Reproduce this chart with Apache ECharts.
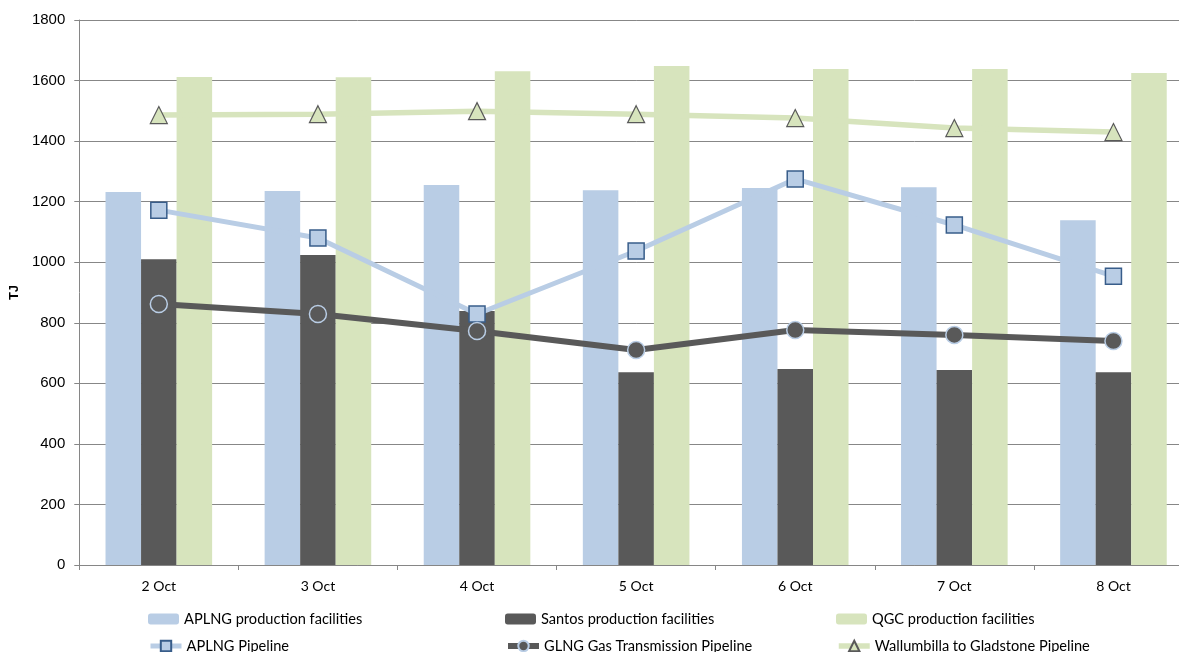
<!DOCTYPE html>
<html>
<head>
<meta charset="utf-8">
<script src="https://cdn.jsdelivr.net/npm/echarts@6/dist/echarts.min.js"></script>
<style>
html,body{margin:0;padding:0;background:#fff;overflow:hidden;}
#c{width:1193px;height:652px;}
</style>
</head>
<body>
<div id="c"></div>
<script>
var categories = ['2 Oct','3 Oct','4 Oct','5 Oct','6 Oct','7 Oct','8 Oct'];
var yTicks = [0,200,400,600,800,1000,1200,1400,1600,1800];
var aplngProd = [1232,1235,1255,1238,1245,1248,1139];
var santosProd = [1010,1024,839,637,647,644,637];
var qgcProd = [1612,1611,1631,1648,1638,1638,1625];
var aplngPipe = [1172,1080,829,1037,1275,1123,954];
var glngPipe = [862,829,773,710,776,760,740];
var wallPipe = [1486,1489,1499,1489,1476,1443,1430];

var C_BLUE = '#b9cde5', C_DARK = '#595959', C_GREEN = '#d7e4bd';
var chart = echarts.init(document.getElementById('c'));
var legendText = {fontFamily:'Lato', fontSize:14.6, color:'#000', lineHeight:16};
function lg(name, left, top, isLine, lw){
  var o = {show:true, data:[name], left:left, top:top, orient:'horizontal',
    itemWidth:31, itemHeight:isLine?13:11, itemGap:0, textStyle:legendText, selectedMode:false, padding:0};
  if (isLine) o.lineStyle = {width:lw};
  return o;
}
chart.setOption({
  animation:false,
  backgroundColor:'#fff',
  grid:{left:79, top:20, right:0, bottom:87, containLabel:false},
  legend:[
    lg('APLNG production facilities',148,611),
    lg('Santos production facilities',505,611),
    lg('QGC production facilities',836,611),
    lg('APLNG Pipeline',148,638,true,5),
    lg('GLNG Gas Transmission Pipeline',505,638,true,6),
    lg('Wallumbilla to Gladstone Pipeline',836,638,true,5.5)
  ],
  xAxis:{
    type:'category', data:categories,
    axisLine:{lineStyle:{color:'#868686', width:1}},
    axisTick:{show:true, length:5, lineStyle:{color:'#868686'}},
    axisLabel:{fontFamily:'Lato', fontSize:14, color:'#000', margin:14},
    splitLine:{show:false}
  },
  yAxis:{
    type:'value', min:yTicks[0], max:yTicks[yTicks.length-1], interval:200,
    name:'TJ', nameLocation:'middle', nameRotate:90, nameGap:50,
    nameTextStyle:{fontFamily:'Liberation Sans', fontWeight:'bold', fontSize:13, color:'#000'},
    axisLine:{show:true, lineStyle:{color:'#868686', width:1}},
    axisTick:{show:true, length:5, lineStyle:{color:'#868686'}},
    axisLabel:{fontFamily:'Liberation Sans', fontSize:15, color:'#000', margin:14,
      formatter:function(v){return String(v);}},
    splitLine:{show:true, lineStyle:{color:'#878787', width:1}}
  },
  series:[
    {name:'APLNG production facilities', type:'bar', data:aplngProd, barGap:'0%', barCategoryGap:'33%',
      itemStyle:{color:C_BLUE}},
    {name:'Santos production facilities', type:'bar', data:santosProd, barGap:'0%', barCategoryGap:'33%',
      itemStyle:{color:C_DARK}},
    {name:'QGC production facilities', type:'bar', data:qgcProd, barGap:'0%', barCategoryGap:'33%',
      itemStyle:{color:C_GREEN}},
    {name:'APLNG Pipeline', type:'line', data:aplngPipe, symbol:'rect', symbolSize:16,
      lineStyle:{color:C_BLUE, width:5}, itemStyle:{color:C_BLUE, borderColor:'#385d8a', borderWidth:1.5}},
    {name:'GLNG Gas Transmission Pipeline', type:'line', data:glngPipe, symbol:'circle', symbolSize:17,
      lineStyle:{color:C_DARK, width:6}, itemStyle:{color:C_DARK, borderColor:C_BLUE, borderWidth:1.5}},
    {name:'Wallumbilla to Gladstone Pipeline', type:'line', data:wallPipe, symbol:'triangle', symbolSize:17,
      lineStyle:{color:C_GREEN, width:5.5}, itemStyle:{color:C_GREEN, borderColor:C_DARK, borderWidth:1.2}}
  ]
});
</script>
</body>
</html>
